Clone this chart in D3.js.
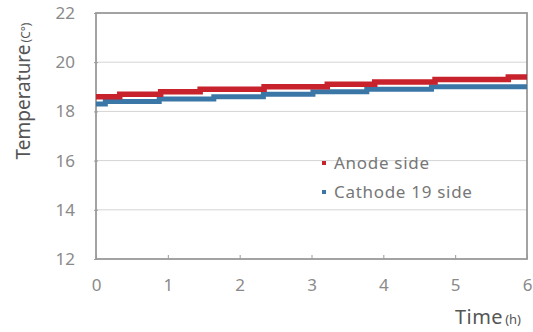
<!DOCTYPE html>
<html><head><meta charset="utf-8">
<script src="https://cdn.jsdelivr.net/npm/d3@7"></script>
<style>body{margin:0;background:#fff}svg{display:block}text{font-family:"Noto Sans","Open Sans",sans-serif}</style>
</head><body>
<script>
const anodeTimes  = [0, 0.33, 0.90, 1.45, 2.34, 3.22, 3.88, 4.72, 5.74, 6.0];
const anodeTemps  = [18.6, 18.7, 18.8, 18.9, 19.0, 19.1, 19.2, 19.3, 19.4, 19.4];
const cathodeTimes = [0, 0.13, 0.88, 1.64, 2.33, 3.02, 3.77, 4.67, 6.0];
const cathodeTemps = [18.3, 18.4, 18.5, 18.6, 18.7, 18.8, 18.9, 19.0, 19.0];
const xTicks = [0, 1, 2, 3, 4, 5, 6];
const yTicks = [12, 14, 16, 18, 20, 22];
const seriesNames = ["Anode side", "Cathode 19 side"];
const seriesColors = ["#c8222c", "#3b77a6"];

const W = 533, H = 332;
const m = {l: 96, r: 6, t: 13, b: 73};
const svg = d3.select("body").append("svg").attr("width", W).attr("height", H);
const x = d3.scaleLinear().domain([0, 6]).range([m.l, W - m.r]);
const y = d3.scaleLinear().domain([12, 22]).range([H - m.b, m.t]);

// grid
svg.append("g").selectAll("line").data(yTicks.filter(v => v > 12 && v < 22)).join("line")
  .attr("x1", x(0)).attr("x2", x(6)).attr("y1", d => y(d)).attr("y2", d => y(d))
  .attr("stroke", "#d4d4d4").attr("stroke-width", 1);

// frame
svg.append("rect").attr("x", x(0)).attr("y", y(22)).attr("width", x(6) - x(0)).attr("height", y(12) - y(22))
  .attr("fill", "none").attr("stroke", "#9a9a9a").attr("stroke-width", 1.8);

// axes
const yAxis = svg.append("g").attr("transform", `translate(${x(0)},0)`)
  .call(d3.axisLeft(y).tickValues(yTicks).tickSize(4).tickPadding(17));
yAxis.select(".domain").remove();
yAxis.selectAll("line").attr("stroke", "#9a9a9a").attr("transform", "translate(2,0)");
yAxis.selectAll("text").attr("fill", "#8a8a8a").style("font-size", "17px");

const xAxis = svg.append("g").attr("transform", `translate(0,${y(12)})`)
  .call(d3.axisTop(x).tickValues(xTicks).tickSize(4).tickFormat(d3.format("d")));
xAxis.select(".domain").remove();
xAxis.selectAll("line").attr("stroke", "#9a9a9a");
xAxis.selectAll("text").attr("fill", "#8a8a8a").style("font-size", "17px")
  .attr("y", 32).attr("dy", "0");

// lines
const line = d3.line().x(d => x(d[0])).y(d => y(d[1])).curve(d3.curveStepAfter);
const series = [
  d3.zip(cathodeTimes, cathodeTemps),
  d3.zip(anodeTimes, anodeTemps)
];
svg.append("path").datum(series[0]).attr("d", line).attr("fill", "none")
  .attr("stroke", seriesColors[1]).attr("stroke-width", 5);
svg.append("path").datum(series[1]).attr("d", line).attr("fill", "none")
  .attr("stroke", seriesColors[0]).attr("stroke-width", 5.5);

// legend
const lg = svg.append("g");
seriesNames.forEach((n, i) => {
  const cy = 163 + i * 29;
  lg.append("rect").attr("x", 322).attr("y", cy - 2).attr("width", 4).attr("height", 4).attr("fill", seriesColors[i]);
  lg.append("text").attr("x", 334).attr("y", cy + 6).text(n).attr("fill", "#777")
    .style("font-size", "17px").style("letter-spacing", "0.7px");
});

// axis titles
const xt = svg.append("text").attr("x", 521).attr("y", 324).attr("text-anchor", "end").attr("fill", "#555");
xt.append("tspan").text("Time").style("font-size", "20px").style("letter-spacing", "0.5px");
xt.append("tspan").text("(h)").style("font-size", "13px").attr("dx", 2);

const yt = svg.append("text").attr("transform", "translate(30,91) rotate(-90)").attr("text-anchor", "middle").attr("fill", "#555");
yt.append("tspan").text("Temperature").style("font-size", "19px");
yt.append("tspan").text("(C°)").style("font-size", "12px").attr("dx", 2);
</script>
</body></html>
